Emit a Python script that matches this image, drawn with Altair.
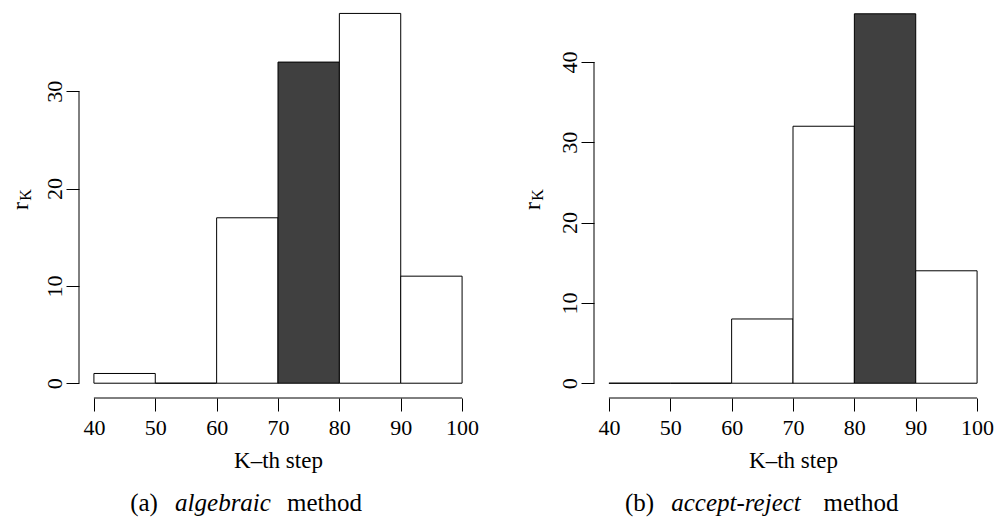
import altair as alt
import pandas as pd

bin_start = [40, 50, 60, 70, 80, 90]
bin_end = [50, 60, 70, 80, 90, 100]
counts_a = [1, 0, 17, 33, 38, 11]
counts_b = [0, 0, 8, 32, 46, 14]
highlight_a = [False, False, False, True, False, False]
highlight_b = [False, False, False, False, True, False]
x_ticks = [40, 50, 60, 70, 80, 90, 100]
y_ticks_a = [0, 10, 20, 30]
y_ticks_b = [0, 10, 20, 30, 40]
x_title = "K\u2013th step"
caption_a = ["(a)", "algebraic", "method"]
caption_b = ["(b)", "accept-reject", "method"]

FONT = "Liberation Serif"
W, H = 398, 387
X_DOMAIN = [37.57, 102.43]


def panel(counts, highlight, y_ticks, y_domain, caption, cap_x, ytitle_x):
    df = pd.DataFrame({"start": bin_start, "end": bin_end, "count": counts,
                       "hl": ["dark" if h else "light" for h in highlight]})
    xs = alt.Scale(domain=X_DOMAIN, nice=False, zero=False)
    ys = alt.Scale(domain=y_domain, nice=False, zero=False)
    bars = alt.Chart(df).mark_rect(stroke="black", strokeWidth=1).encode(
        x=alt.X("start:Q", scale=xs, axis=alt.Axis(
            values=x_ticks, title=x_title, format="d", domain=False, grid=False,
            tickSize=13, tickColor="black", tickWidth=1, labelPadding=6,
            labelFontSize=22, labelFont=FONT, labelColor="black",
            titleFont=FONT, titleFontSize=23, titleFontWeight="normal",
            titleColor="black", titlePadding=11, labelFlush=False)),
        x2="end:Q",
        y=alt.Y("count:Q", scale=ys, axis=alt.Axis(
            values=y_ticks, title=None, format="d", domain=False, grid=False,
            tickSize=13, tickColor="black", tickWidth=1, labelPadding=5,
            labelAngle=270, labelAlign="center", labelBaseline="alphabetic",
            labelFontSize=22, labelFont=FONT, labelColor="black", labelFlush=False)),
        y2=alt.datum(0),
        fill=alt.Fill("hl:N", scale=alt.Scale(domain=["light", "dark"],
                                              range=["white", "#404040"]), legend=None),
    )
    ydf = pd.DataFrame({"y0": [min(y_ticks)], "y1": [max(y_ticks)]})
    yline = alt.Chart(ydf).mark_rule(color="black", strokeWidth=1).encode(
        y=alt.Y("y0:Q", scale=ys), y2="y1:Q", x=alt.value(0))
    xdf = pd.DataFrame({"x0": [min(x_ticks)], "x1": [max(x_ticks)]})
    xline = alt.Chart(xdf).mark_rule(color="black", strokeWidth=1).encode(
        x=alt.X("x0:Q", scale=xs), x2="x1:Q", y=alt.value(H))
    r_df = pd.DataFrame({"t": ["r"]})
    k_df = pd.DataFrame({"t": ["K"]})
    rt = alt.Chart(r_df).mark_text(font=FONT, fontSize=24, angle=270, align="center",
                                   baseline="alphabetic", color="black").encode(
        text="t:N", x=alt.value(ytitle_x), y=alt.value(195))
    kt = alt.Chart(k_df).mark_text(font=FONT, fontSize=16, angle=270, align="center",
                                   baseline="alphabetic", color="black").encode(
        text="t:N", x=alt.value(ytitle_x + 3), y=alt.value(184))
    caps = []
    for word, cx, italic in zip(caption, cap_x, [False, True, False]):
        kw = {"fontStyle": "italic"} if italic else {}
        caps.append(alt.Chart(pd.DataFrame({"t": [word]})).mark_text(
            font=FONT, fontSize=25, align="center", baseline="middle",
            color="black", **kw).encode(text="t:N", x=alt.value(cx), y=alt.value(492)))
    return alt.layer(bars, yline, xline, rt, kt, *caps).properties(width=W, height=H)


left = panel(counts_a, highlight_a, y_ticks_a, [-1.52, 38.25], caption_a,
             [65, 144, 245.5], -51)
right = panel(counts_b, highlight_b, y_ticks_b, [-1.84, 46.35], caption_b,
              [45.5, 142, 267], -54)

chart = alt.hconcat(left, right, spacing=117, bounds="flush").properties(
    padding={"left": 0, "top": 2, "right": 0, "bottom": 0}
).configure_view(stroke="transparent")

chart.save("out.html", embed_options={"renderer": "svg", "actions": False})
